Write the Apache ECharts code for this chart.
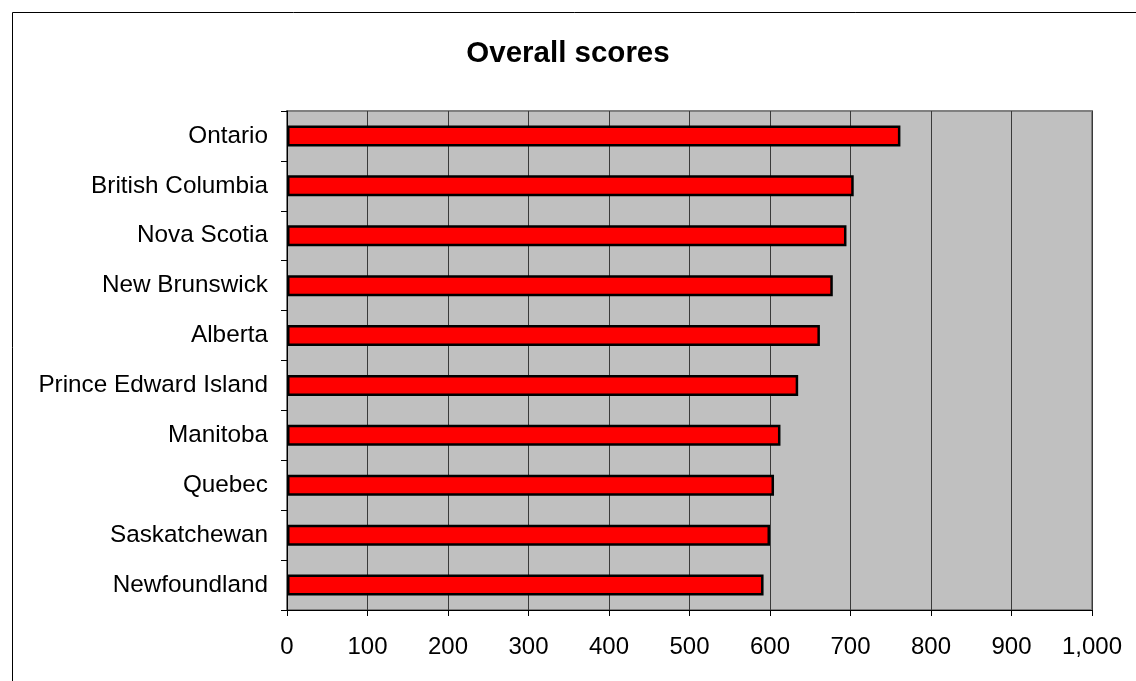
<!DOCTYPE html>
<html>
<head>
<meta charset="utf-8">
<style>
  html, body { margin: 0; padding: 0; background: #ffffff; }
  #chart { width: 1136px; height: 681px; }
</style>
<script src="https://cdn.jsdelivr.net/npm/echarts@6/dist/echarts.min.js"></script>
</head>
<body>
<div id="chart"></div>
<script>
// Provinces, listed from top to bottom
const provinces = [
  'Ontario', 'British Columbia', 'Nova Scotia', 'New Brunswick', 'Alberta',
  'Prince Edward Island', 'Manitoba', 'Quebec', 'Saskatchewan', 'Newfoundland'
];
// Overall score for each province
const overallScores = [762, 704, 695, 678, 662, 635, 613, 605, 600, 592];

const scoreMin = 0;
const scoreMax = 1000;
const scoreStep = 100;

const FONT = "'Liberation Sans', Arial, Helvetica, sans-serif";

const chart = echarts.init(document.getElementById('chart'), null, { renderer: 'canvas' });

chart.setOption({
  backgroundColor: '#ffffff',
  animation: false,
  title: {
    text: 'Overall scores',
    left: 'center',
    top: 34,
    textStyle: { fontFamily: FONT, fontSize: 29.5, fontWeight: 'bold', color: '#000000' }
  },
  graphic: [
    {
      type: 'rect',
      left: 10, top: 10,
      shape: { width: 1200, height: 800 },
      style: { fill: 'none', stroke: '#000000', lineWidth: 1 },
      z: -10
    }
  ],
  grid: {
    left: 287, top: 111, right: 44, bottom: 71,
    show: true,
    backgroundColor: '#C0C0C0',
    borderColor: '#808080',
    borderWidth: 2
  },
  xAxis: {
    type: 'value',
    min: scoreMin,
    max: scoreMax,
    interval: scoreStep,
    axisLine: { show: true, lineStyle: { color: '#000000', width: 1 } },
    axisTick: { show: true, length: 6, lineStyle: { color: '#000000' } },
    axisLabel: {
      margin: 25,
      fontFamily: FONT, fontSize: 24, color: '#000000',
      formatter: v => v.toLocaleString('en-US')
    },
    splitLine: { show: true, lineStyle: { color: '#3a3a3a', width: 1 } }
  },
  yAxis: {
    type: 'category',
    inverse: true,
    data: provinces,
    axisLine: { show: true, lineStyle: { color: '#000000', width: 1 } },
    axisTick: { show: true, length: 6, alignWithLabel: false, lineStyle: { color: '#000000' } },
    axisLabel: { margin: 19, fontFamily: FONT, fontSize: 24.3, color: '#000000' },
    splitLine: { show: false }
  },
  series: [
    {
      type: 'bar',
      data: overallScores,
      barWidth: 21,
      itemStyle: { color: '#FF0000', borderColor: '#000000', borderWidth: 2.5 }
    }
  ]
});
</script>
</body>
</html>
